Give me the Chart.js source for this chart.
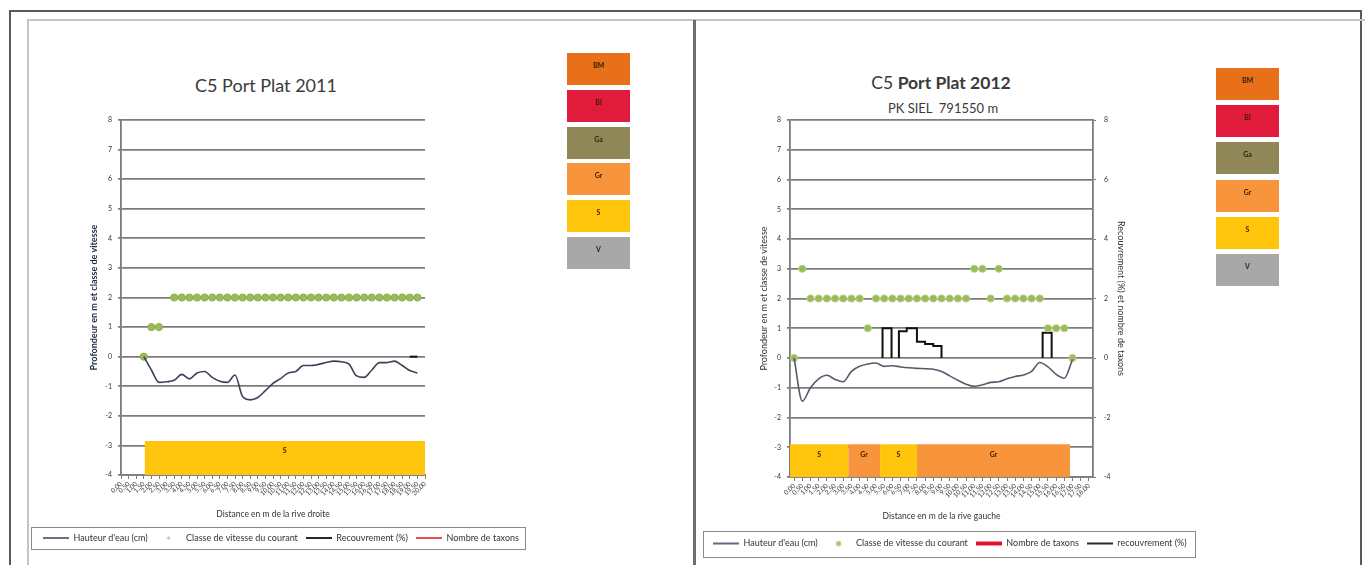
<!DOCTYPE html>
<html>
<head>
<meta charset="utf-8">
<script src="https://cdn.jsdelivr.net/npm/chart.js@4.4.1/dist/chart.umd.min.js"></script>
<style>
  body { margin:0; background:#fff; width:1365px; height:565px; overflow:hidden; position:relative; font-family:Lato, 'Liberation Sans', sans-serif; }
  .frame { position:absolute; left:9px; top:10px; width:1353px; height:600px; border:2.5px solid #595959; box-sizing:border-box; }
  .inner { position:absolute; left:27px; top:19px; width:1340px; height:600px; border-top:2px solid #c4c4c4; border-left:2px solid #c4c4c4; box-sizing:border-box; }
  .divider { position:absolute; left:693px; top:20px; width:3px; height:560px; background:#6e6e6e; }
  canvas { position:absolute; }
  .title { position:absolute; text-align:center; color:#3a3a3a; white-space:nowrap; }
  .sw { position:absolute; width:63px; height:32px; font:bold 7px Lato; text-align:center; line-height:24px; color:#3b1d00; }
</style>
</head>
<body>
<div class="frame"></div>
<div class="inner"></div>
<div class="divider"></div>

<div class="title" style="left:166px;top:74px;width:200px;font-size:18px;line-height:22px;">C5 Port Plat 2011</div>
<div class="title" style="left:841px;top:72px;width:200px;font-size:17.5px;line-height:22px;">C5 <b>Port Plat 2012</b></div>
<div class="title" style="left:843px;top:100px;width:200px;font-size:13px;line-height:16px;">PK SIEL&nbsp; 791550 m</div>

<canvas id="c2011" width="660" height="536" style="left:30px;top:22px"></canvas>
<canvas id="c2012" width="655" height="538" style="left:700px;top:22px"></canvas>

<script>
// substrate key (top to bottom)
const keyCodes = ['BM', 'Bl', 'Ga', 'Gr', 'S', 'V'];
const substrateColor = { BM:'#e8701a', Bl:'#e01b3c', Ga:'#8f8757', Gr:'#f7943c', S:'#fec50c', V:'#a8a8a8' };

// ---- 2011, rive droite
const labels2011 = ['0,00','0,50','1,00','1,50','2,00','2,50','3,00','3,50','4,00','4,50','5,00','5,50','6,00','6,50','7,00','7,50','8,00','8,50','9,00','9,50','10,00','10,50','11,00','11,50','12,00','12,50','13,00','13,50','14,00','14,50','15,00','15,50','16,00','16,50','17,00','17,50','18,00','18,50','19,00','19,50','20,00'];
const hauteur2011 = [null,null,null,0,-0.45,-0.87,-0.85,-0.8,-0.6,-0.75,-0.55,-0.5,-0.7,-0.83,-0.87,-0.62,-1.35,-1.46,-1.38,-1.15,-0.9,-0.74,-0.55,-0.5,-0.3,-0.3,-0.26,-0.2,-0.15,-0.17,-0.25,-0.65,-0.7,-0.45,-0.2,-0.2,-0.15,-0.3,-0.47,-0.55,null];
const vitesse2011 = [null,null,null,0,1,1,null,2,2,2,2,2,2,2,2,2,2,2,2,2,2,2,2,2,2,2,2,2,2,2,2,2,2,2,2,2,2,2,2,2,null];
const recouvX2011 = [38, 39];
const recouvY2011 = [0, 0];
const taxons2011 = [];
const bandFrom2011 = [3.1];
const bandTo2011 = [40];
const bandCode2011 = ['S'];
const bandTop2011 = -2.85;

// ---- 2012, rive gauche
const labels2012 = ['0,00','0,50','1,00','1,50','2,00','2,50','3,00','3,50','4,00','4,50','5,00','5,50','6,00','6,50','7,00','7,50','8,00','8,50','9,00','9,50','10,00','10,50','11,00','11,50','12,00','12,50','13,00','13,50','14,00','14,50','15,00','15,50','16,00','16,50','17,00','17,50','18,00'];
const hauteur2012 = [0,-1.45,-1.0,-0.7,-0.58,-0.72,-0.8,-0.45,-0.28,-0.2,-0.17,-0.28,-0.26,-0.3,-0.33,-0.35,-0.36,-0.38,-0.45,-0.6,-0.75,-0.88,-0.95,-0.9,-0.82,-0.8,-0.7,-0.62,-0.57,-0.45,-0.15,-0.3,-0.55,-0.68,-0.05,null,null];
const vitesse2012 = [0,3,2,2,2,2,2,2,2,1,2,2,2,2,2,2,2,2,2,2,2,2,3,3,2,3,2,2,2,2,2,1,1,1,0,null,null];
const recouvX2012 = [10.8,10.8,11.9,11.9,11.9,12.8,12.8,13.75,13.75,15,15,16,16,17,17,18,18,18,30.35,30.35,31.45,31.45];
const recouvY2012 = [0,1,1,0,null,0,0.9,0.9,1,1,0.55,0.55,0.47,0.47,0.4,0.4,0,null,0,0.85,0.85,0];
const taxons2012 = [];
const bandFrom2012 = [-0.5, 6.6, 10.5, 15];
const bandTo2012 = [6.6, 10.5, 15, 33.7];
const bandCode2012 = ['S', 'Gr', 'S', 'Gr'];
const bandTop2012 = -2.9;

Chart.defaults.font.family = 'Lato';
const GRID = '#7c7c7c';

// key swatches
function drawKey(left, top, pitch) {
  keyCodes.forEach((k, i) => {
    const d = document.createElement('div');
    d.className = 'sw';
    d.style.left = left + 'px';
    d.style.top = (top + i * pitch) + 'px';
    d.style.background = substrateColor[k];
    d.textContent = k;
    document.body.appendChild(d);
  });
}
drawKey(567, 53, 36.8);
drawKey(1216, 68, 37.2);

function lineMark(color, thick) {
  const c = document.createElement('canvas'); c.width = 26; c.height = 8;
  const g = c.getContext('2d'); g.fillStyle = color; g.fillRect(0, 4 - thick / 2, 26, thick);
  return c;
}
function dotMark(color, r) {
  const c = document.createElement('canvas'); c.width = 26; c.height = 8;
  const g = c.getContext('2d'); g.fillStyle = color; g.beginPath(); g.arc(13, 4, r, 0, Math.PI * 2); g.fill();
  return c;
}

const bandLabels = {
  id: 'bandLabels',
  afterDatasetsDraw(chart) {
    const { ctx, scales: { x, y } } = chart;
    ctx.save();
    ctx.font = 'bold 7px Lato'; ctx.fillStyle = '#3b1d00';
    ctx.textAlign = 'center'; ctx.textBaseline = 'middle';
    chart.data.datasets.forEach(ds => {
      if (!ds.band) return;
      const px = x.getPixelForValue((ds.data[0].x + ds.data[1].x) / 2);
      const py = y.getPixelForValue(ds.data[0].y) + 10;
      ctx.fillText(ds.code, px, py);
    });
    ctx.restore();
  }
};

const legendBox = {
  id: 'legendBox',
  afterDraw(chart, args, o) {
    const hb = chart.legend.legendHitBoxes;
    if (!hb || !hb.length) return;
    const { ctx } = chart;
    const l = Math.min(...hb.map(h => h.left)) - o.padL;
    const r = Math.max(...hb.map(h => h.left + h.width)) + o.padR;
    const cy = hb[0].top + hb[0].height / 2;
    ctx.save();
    ctx.strokeStyle = '#8a8a8a'; ctx.lineWidth = 1;
    ctx.strokeRect(Math.round(l) + 0.5, Math.round(cy - o.half) + 0.5, Math.round(r - l), o.half * 2);
    ctx.restore();
  }
};

function bandSets(from, to, codes, top) {
  return codes.map((c, i) => ({
    band: true, code: c,
    data: [{ x: from[i], y: top }, { x: to[i], y: top }],
    fill: { value: -4 }, backgroundColor: substrateColor[c],
    borderColor: 'rgba(0,0,0,0)', borderWidth: 0, pointRadius: 0
  }));
}
const pts = (xs, ys) => xs.map((x, i) => ({ x, y: ys[i] }));
const idx = ys => ys.map((y, i) => ({ x: i, y }));

function makeChart(id, o) {
  return new Chart(document.getElementById(id), {
    type: 'line',
    data: { datasets: o.datasets },
    options: {
      responsive: false, animation: false,
      layout: { padding: o.padding },
      scales: {
        x: {
          type: 'linear', min: o.xMin, max: o.xMax,
          afterBuildTicks: s => { s.ticks = o.labels.map((_, i) => ({ value: i })); },
          afterFit: s => { s.height = o.xHeight; },
          grid: { drawOnChartArea: false, color: GRID, tickLength: 4 },
          border: { color: GRID, width: 1.8 },
          ticks: { autoSkip: false, minRotation: 45, maxRotation: 45, font: { size: 6.5 }, color: '#3c3c3c', padding: 1,
                   callback: v => o.labels[v] },
          title: { display: true, text: o.xTitle, font: { size: 8.5 }, color: '#333', padding: { top: 0, bottom: o.xTitlePad } }
        },
        y: {
          min: -4, max: 8,
          afterFit: s => { s.width = o.yWidth; },
          ticks: { stepSize: 1, font: { size: 7 }, color: '#333', padding: 6 },
          grid: { color: GRID, lineWidth: 1.8, tickLength: 3 },
          border: { color: GRID, width: 1.8 },
          title: { display: true, text: o.yTitle, font: { size: 9, weight: o.yBold ? 'bold' : 'normal' }, color: o.yColor, padding: { top: 54, bottom: 0 } }
        },
        y2: o.y2
      },
      plugins: {
        tooltip: { enabled: false },
        legend: {
          position: 'bottom', align: 'start',
          labels: {
            usePointStyle: true, pointStyleWidth: 26, boxHeight: 7, padding: 8, color: '#333', font: { size: 9 },
            generateLabels: chart => Chart.defaults.plugins.legend.labels.generateLabels(chart)
              .filter(it => !chart.data.datasets[it.datasetIndex].band)
              .map(it => Object.assign(it, { pointStyle: chart.data.datasets[it.datasetIndex].legendMark }))
          }
        },
        legendBox: o.box
      }
    },
    plugins: [bandLabels, legendBox]
  });
}

makeChart('c2011', {
  labels: labels2011, xMin: 0, xMax: 40,
  padding: { left: 5, right: 0, top: 98, bottom: 5.5 },
  xHeight: 50.5, xTitlePad: 6, yWidth: 86,
  xTitle: 'Distance en m de la rive droite',
  yTitle: 'Profondeur en m et classe de vitesse', yBold: true, yColor: '#1f2a44',
  box: { padL: 12, padR: 6, half: 11 },
  y2: { position: 'right', display: true, afterFit: s => { s.width = 265; },
        ticks: { display: false }, grid: { display: false }, border: { display: false } },
  datasets: [
    { label: "Hauteur d'eau (cm)", data: idx(hauteur2011), borderColor: '#3c4157', borderWidth: 1.6,
      pointRadius: 0, cubicInterpolationMode: 'monotone', legendMark: lineMark('#3c4157', 1.5) },
    { label: 'Classe de vitesse du courant', data: idx(vitesse2011), showLine: false, pointRadius: 3.6,
      backgroundColor: '#9bbb59', borderColor: '#8fae52', borderWidth: 1, legendMark: dotMark('#b5cc85', 1.6) },
    { label: 'Recouvrement (%)', data: pts(recouvX2011, recouvY2011), borderColor: '#111', borderWidth: 2,
      pointRadius: 0, legendMark: lineMark('#111', 1.8) },
    { label: 'Nombre de taxons', data: taxons2011, borderColor: '#e0141e', borderWidth: 1.5,
      pointRadius: 0, legendMark: lineMark('#e0141e', 1.5) },
    ...bandSets(bandFrom2011, bandTo2011, bandCode2011, bandTop2011)
  ]
});

makeChart('c2012', {
  labels: labels2012, xMin: -0.5, xMax: 36.5,
  padding: { left: 5, right: 5, top: 98, bottom: 2 },
  xHeight: 54, xTitlePad: 10, yWidth: 85,
  xTitle: 'Distance en m de la rive gauche',
  yTitle: 'Profondeur en m et classe de vitesse', yBold: false, yColor: '#333',
  box: { padL: 10, padR: 8, half: 13 },
  y2: { position: 'right', min: -4, max: 8, afterFit: s => { s.width = 257; },
        ticks: { stepSize: 2, font: { size: 7 }, color: '#333', padding: 8 },
        grid: { drawOnChartArea: false, color: GRID, tickLength: 3 },
        border: { color: GRID, width: 1.8 },
        title: { display: true, text: 'Recouvrement (%) et nombre de taxons', font: { size: 9 }, color: '#333', padding: { top: 224, bottom: 0 } } },
  datasets: [
    { label: "Hauteur d'eau (cm)", data: idx(hauteur2012), borderColor: '#555b6b', borderWidth: 1.6,
      pointRadius: 0, cubicInterpolationMode: 'monotone', legendMark: lineMark('#2f3a5a', 1.5) },
    { label: 'Classe de vitesse du courant', data: idx(vitesse2012), showLine: false, pointRadius: 3.6,
      backgroundColor: '#9bbb59', borderColor: '#b7cf86', borderWidth: 1, legendMark: dotMark('#a9c46c', 2.6) },
    { label: 'Nombre de taxons', data: taxons2012, borderColor: '#e0142c', borderWidth: 4,
      pointRadius: 0, legendMark: lineMark('#e0142c', 4) },
    { label: 'recouvrement (%)', data: pts(recouvX2012, recouvY2012), borderColor: '#111', borderWidth: 2,
      pointRadius: 0, legendMark: lineMark('#111', 1.8) },
    ...bandSets(bandFrom2012, bandTo2012, bandCode2012, bandTop2012)
  ]
});
</script>
</body>
</html>
